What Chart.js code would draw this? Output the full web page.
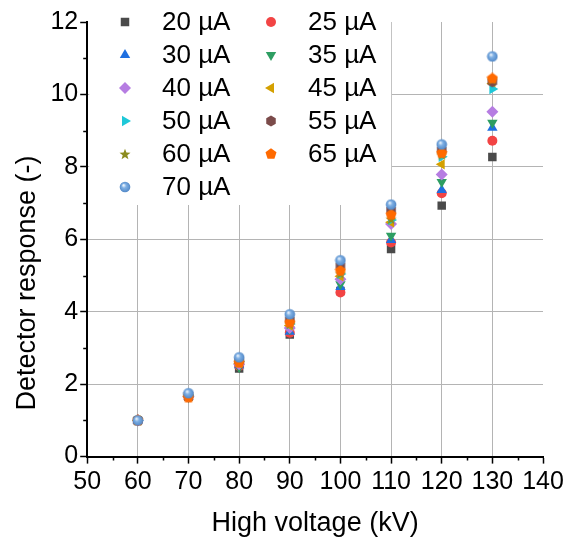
<!DOCTYPE html>
<html>
<head>
<meta charset="utf-8">
<script src="https://cdn.jsdelivr.net/npm/chart.js@4.4.1/dist/chart.umd.min.js"></script>
<style>
  body { margin: 0; background: #fff; }
  canvas { display: block; }
</style>
</head>
<body>
<canvas id="myChart" width="574" height="541"></canvas>
<script>
// ===== data =====
const voltages = [60, 70, 80, 90, 100, 110, 120, 130];
const currents = ['20 µA', '25 µA', '30 µA', '35 µA', '40 µA', '45 µA', '50 µA', '55 µA', '60 µA', '65 µA', '70 µA'];

const r20 = [1.00, 1.65, 2.43, 3.37, 4.57, 5.73, 6.93, 8.27];
const r25 = [1.00, 1.65, 2.50, 3.42, 4.53, 5.91, 7.27, 8.72];
const r30 = [1.00, 1.65, 2.52, 3.45, 4.68, 5.98, 7.36, 9.08];
const r35 = [1.00, 1.64, 2.47, 3.51, 4.76, 6.10, 7.58, 9.22];
const r40 = [1.00, 1.66, 2.55, 3.55, 4.90, 6.42, 7.79, 9.52];
const r45 = [1.00, 1.66, 2.58, 3.62, 4.98, 6.47, 8.07, 10.30];
const r50 = [1.00, 1.67, 2.62, 3.66, 5.04, 6.53, 8.28, 10.15];
const r55 = [1.00, 1.70, 2.65, 3.78, 5.27, 6.81, 8.47, 10.35];
const r60 = [1.00, 1.68, 2.62, 3.66, 5.06, 6.56, 8.34, 10.42];
const r65 = [1.00, 1.63, 2.59, 3.70, 5.13, 6.68, 8.38, 10.44];
const r70 = [1.00, 1.75, 2.74, 3.93, 5.42, 6.96, 8.62, 11.05];

const series = [r20, r25, r30, r35, r40, r45, r50, r55, r60, r65, r70];

const yTitle = 'Detector response (-)';
const xTitle = 'High voltage (kV)';

// ===== marker images for shapes Chart.js does not have =====
function makeIcon(draw) {
  const c = document.createElement('canvas');
  c.width = 12; c.height = 12;
  draw(c.getContext('2d'));
  return c;
}
function polygon(g, n, r, color) {
  g.beginPath();
  for (let k = 0; k < n; k++) {
    const a = -Math.PI / 2 + k * 2 * Math.PI / n;
    g.lineTo(6 + r * Math.cos(a), 6 + r * Math.sin(a));
  }
  g.closePath();
  g.fillStyle = color;
  g.fill();
}
const hexagon = makeIcon(g => polygon(g, 6, 5.5, '#7b4b4a'));
const pentagon = makeIcon(g => polygon(g, 5, 5.8, '#ff6a00'));
const star = makeIcon(g => {
  g.beginPath();
  for (let k = 0; k < 10; k++) {
    const a = -Math.PI / 2 + k * Math.PI / 5;
    const r = k % 2 ? 2.4 : 5.8;
    g.lineTo(6 + r * Math.cos(a), 6.5 + r * Math.sin(a));
  }
  g.closePath();
  g.fillStyle = '#8c8c1e';
  g.fill();
});
const sphere = makeIcon(g => {
  const grad = g.createRadialGradient(4.5, 4.2, 0.5, 6, 6, 5.5);
  grad.addColorStop(0, '#e8f1fb');
  grad.addColorStop(0.35, '#7fb0e4');
  grad.addColorStop(1, '#4f86c6');
  g.beginPath();
  g.arc(6, 6, 5.3, 0, Math.PI * 2);
  g.fillStyle = grad;
  g.fill();
});

const colors = ['#4a4a4a', '#f24444', '#1f6fe0', '#2e9e62', '#b67de2', '#d4a000', '#1ec8d8', '#7b4b4a', '#8c8c1e', '#ff6a00', '#5b93d3'];
const styles = ['rect', 'circle', 'triangle', 'triangle', 'rectRot', 'triangle', 'triangle', hexagon, star, pentagon, sphere];
const rotations = [0, 0, 0, 180, 0, -90, 90, 0, 0, 0, 0];
const radii = [6, 5, 6, 6, 6, 6, 6, 6, 6, 6, 6];

const datasets = currents.map((label, i) => ({
  label: label,
  data: voltages.map((v, j) => ({ x: v, y: series[i][j] })),
  backgroundColor: colors[i],
  borderColor: colors[i],
  borderWidth: 0,
  pointStyle: styles[i],
  rotation: rotations[i],
  pointRadius: radii[i],
  showLine: false,
  order: currents.length - i,
}));

const fontFamily = '"Liberation Sans", Arial, sans-serif';

// ===== legend inside the plot, minor ticks, y title =====
const insideLegend = {
  id: 'insideLegend',
  beforeDatasetsDraw(chart) {
    const { ctx, chartArea } = chart;
    ctx.save();
    ctx.fillStyle = '#fff';
    ctx.fillRect(chartArea.left + 2, 0, 302, 205);
    ctx.font = '26px ' + fontFamily;
    ctx.textBaseline = 'middle';
    chart.data.datasets.forEach((ds, i) => {
      const col = i % 2, row = Math.floor(i / 2);
      const mx = col === 0 ? 125 : 271;
      const tx = col === 0 ? 162 : 308;
      const y = 22 + row * 33;
      ctx.fillStyle = ds.backgroundColor;
      ctx.strokeStyle = ds.borderColor;
      ctx.lineWidth = 0;
      Chart.helpers.drawPoint(ctx, {
        pointStyle: ds.pointStyle, rotation: ds.rotation,
        radius: ds.pointRadius, borderWidth: 0
      }, mx, y);
      ctx.fillStyle = '#000';
      ctx.fillText(ds.label, tx, y + 1);
    });
    ctx.restore();
  },
  afterDraw(chart) {
    const { ctx, chartArea, scales } = chart;
    ctx.save();
    ctx.strokeStyle = '#000';
    ctx.lineWidth = 1.5;
    ctx.beginPath();
    for (let v = 55; v < 140; v += 10) {
      const px = Math.round(scales.x.getPixelForValue(v)) + 0.5;
      ctx.moveTo(px, chartArea.bottom);
      ctx.lineTo(px, chartArea.bottom + 4);
    }
    for (let v = 1; v < 12; v += 2) {
      const py = Math.round(scales.y.getPixelForValue(v)) + 0.5;
      ctx.moveTo(chartArea.left, py);
      ctx.lineTo(chartArea.left - 4, py);
    }
    ctx.stroke();

    // y title sits lower than the axis centre in the original
    ctx.translate(28, 283);
    ctx.rotate(-Math.PI / 2);
    ctx.font = '27px ' + fontFamily;
    ctx.fillStyle = '#000';
    ctx.textAlign = 'center';
    ctx.textBaseline = 'middle';
    ctx.fillText(yTitle, 0, 0);
    ctx.restore();
  }
};

const tickFont = { family: fontFamily, size: 25 };

new Chart(document.getElementById('myChart'), {
  type: 'scatter',
  data: { datasets },
  options: {
    responsive: false,
    animation: false,
    layout: { padding: { top: 22, right: 31, left: 8, bottom: 0 } },
    plugins: { legend: { display: false }, tooltip: { enabled: false } },
    scales: {
      x: {
        min: 50, max: 140,
        ticks: { stepSize: 10, font: tickFont, color: '#000', padding: 4, maxRotation: 0 },
        grid: {
          color: c => (c.tick && (c.tick.value === 50 || c.tick.value === 140)) ? 'rgba(0,0,0,0)' : '#b4b4b4',
          tickColor: '#000', tickLength: 7, tickWidth: 1.5, lineWidth: 1
        },
        border: { color: '#000', width: 2 },
        title: { display: true, text: xTitle, font: { family: fontFamily, size: 27 }, color: '#000', padding: { top: 6, bottom: 1 } }
      },
      y: {
        min: 0, max: 12,
        ticks: { stepSize: 2, font: tickFont, color: '#000', padding: 2 },
        grid: {
          color: c => (c.tick && (c.tick.value === 0 || c.tick.value === 12)) ? 'rgba(0,0,0,0)' : '#b4b4b4',
          tickColor: '#000', tickLength: 7, tickWidth: 1.5, lineWidth: 1
        },
        border: { color: '#000', width: 2 },
        // space kept for the title drawn by the plugin
        title: { display: true, text: ' ', font: { family: fontFamily, size: 27 }, color: 'rgba(0,0,0,0)', padding: { bottom: 4 } }
      }
    }
  },
  plugins: [insideLegend]
});
</script>
</body>
</html>
